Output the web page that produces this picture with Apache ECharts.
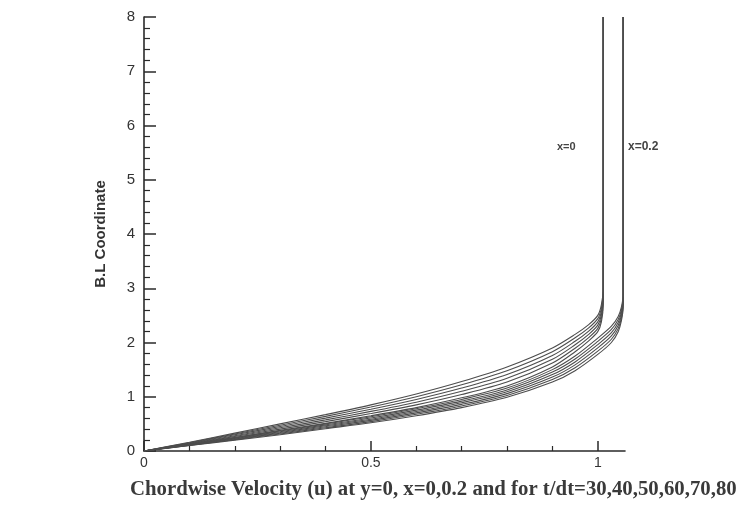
<!DOCTYPE html>
<html>
<head>
<meta charset="utf-8">
<script src="https://cdn.jsdelivr.net/npm/echarts@6/dist/echarts.min.js"></script>
<style>html,body{margin:0;padding:0;background:#fff;}#c{width:742px;height:507px;}</style>
</head>
<body>
<div id="c"></div>
<script>
// Chordwise velocity grids (u) for each station
const uGrid_x0  = [0, 0.1, 0.2, 0.3, 0.4, 0.5, 0.6, 0.7, 0.8, 0.9, 0.95, 0.98, 1.0, 1.008, 1.012, 1.012];
const uGrid_x02 = [0, 0.1, 0.2, 0.3, 0.4, 0.5, 0.6, 0.7, 0.8, 0.9, 0.95, 1.0, 1.03, 1.045, 1.052, 1.056, 1.056];

// B.L coordinate at x = 0, t/dt = 30..80
const y_x0_t30 = [0, 0.120, 0.250, 0.380, 0.510, 0.650, 0.800, 0.980, 1.200, 1.550, 1.830, 2.030, 2.200, 2.380, 2.700, 8];
const y_x0_t40 = [0, 0.128, 0.266, 0.404, 0.542, 0.690, 0.850, 1.040, 1.270, 1.620, 1.894, 2.090, 2.260, 2.444, 2.760, 8];
const y_x0_t50 = [0, 0.136, 0.282, 0.428, 0.574, 0.730, 0.900, 1.100, 1.340, 1.690, 1.958, 2.150, 2.320, 2.508, 2.820, 8];
const y_x0_t60 = [0, 0.144, 0.298, 0.452, 0.606, 0.770, 0.950, 1.160, 1.410, 1.760, 2.022, 2.210, 2.380, 2.572, 2.880, 8];
const y_x0_t70 = [0, 0.152, 0.314, 0.476, 0.638, 0.810, 1.000, 1.220, 1.480, 1.830, 2.086, 2.270, 2.440, 2.636, 2.940, 8];
const y_x0_t80 = [0, 0.160, 0.330, 0.500, 0.670, 0.850, 1.050, 1.280, 1.550, 1.900, 2.150, 2.330, 2.500, 2.700, 3.000, 8];

// B.L coordinate at x = 0.2, t/dt = 30..80
const y_x02_t30 = [0, 0.100, 0.200, 0.300, 0.410, 0.520, 0.650, 0.800, 0.990, 1.270, 1.480, 1.780, 2.000, 2.200, 2.400, 2.650, 8];
const y_x02_t40 = [0, 0.104, 0.210, 0.314, 0.428, 0.542, 0.676, 0.830, 1.024, 1.316, 1.534, 1.840, 2.060, 2.256, 2.450, 2.700, 8];
const y_x02_t50 = [0, 0.108, 0.220, 0.328, 0.446, 0.564, 0.702, 0.860, 1.058, 1.362, 1.588, 1.900, 2.120, 2.312, 2.500, 2.750, 8];
const y_x02_t60 = [0, 0.112, 0.230, 0.342, 0.464, 0.586, 0.728, 0.890, 1.092, 1.408, 1.642, 1.960, 2.180, 2.368, 2.550, 2.800, 8];
const y_x02_t70 = [0, 0.116, 0.240, 0.356, 0.482, 0.608, 0.754, 0.920, 1.126, 1.454, 1.696, 2.020, 2.240, 2.424, 2.600, 2.850, 8];
const y_x02_t80 = [0, 0.120, 0.250, 0.370, 0.500, 0.630, 0.780, 0.950, 1.160, 1.500, 1.750, 2.080, 2.300, 2.480, 2.650, 2.900, 8];

// Axis ticks and labels
const xLabelTicks = [0, 0.5, 1];
const xMinorTicks = [0.1, 0.2, 0.3, 0.4, 0.6, 0.7, 0.8, 0.9];
const yMax = 8;

const profiles = [
  [uGrid_x0, y_x0_t30], [uGrid_x0, y_x0_t40], [uGrid_x0, y_x0_t50],
  [uGrid_x0, y_x0_t60], [uGrid_x0, y_x0_t70], [uGrid_x0, y_x0_t80],
  [uGrid_x02, y_x02_t30], [uGrid_x02, y_x02_t40], [uGrid_x02, y_x02_t50],
  [uGrid_x02, y_x02_t60], [uGrid_x02, y_x02_t70], [uGrid_x02, y_x02_t80]
];

const axisCol = '#2a2a2a';
const lineCol = '#4d4d4d';

const series = profiles.map(function (p) {
  const u = p[0], y = p[1];
  return {
    type: 'line',
    xAxisIndex: 0,
    data: u.map(function (v, k) { return [v, y[k]]; }),
    showSymbol: false,
    smooth: 0.3,
    lineStyle: { color: lineCol, width: 1.1 },
    silent: true,
    animation: false
  };
});

const chart = echarts.init(document.getElementById('c'), null, { renderer: 'canvas' });
chart.setOption({
  backgroundColor: '#ffffff',
  animation: false,
  grid: { left: 144, top: 17, width: 481, height: 434, containLabel: false },
  xAxis: [{
    type: 'value', min: 0, max: 1.06,
    axisLine: { show: true, onZero: false, lineStyle: { color: axisCol, width: 1.6 } },
    axisTick: { show: true, inside: true, length: 10, customValues: xLabelTicks, lineStyle: { color: axisCol, width: 1.5 } },
    axisLabel: { show: true, customValues: xLabelTicks, margin: 5, fontFamily: 'Liberation Sans', fontSize: 14, color: '#333' },
    splitLine: { show: false }
  }, {
    type: 'value', min: 0, max: 1.06, position: 'bottom',
    axisLine: { show: false },
    axisTick: { show: true, inside: true, length: 5, customValues: xMinorTicks, lineStyle: { color: axisCol, width: 1.2 } },
    axisLabel: { show: false },
    splitLine: { show: false }
  }],
  yAxis: {
    type: 'value', min: 0, max: yMax, interval: 1,
    name: 'B.L Coordinate', nameLocation: 'middle', nameGap: 36, nameRotate: 90,
    nameTextStyle: { fontFamily: 'Liberation Sans', fontWeight: 'bold', fontSize: 15, color: '#333' },
    axisLine: { show: true, lineStyle: { color: axisCol, width: 1.6 } },
    axisTick: { show: true, inside: true, length: 12, lineStyle: { color: axisCol, width: 1.5 } },
    minorTick: { show: true, splitNumber: 5, length: 6, lineStyle: { color: axisCol, width: 1.2 } },
    axisLabel: { margin: 9, fontFamily: 'Liberation Sans', fontSize: 15, color: '#333' },
    splitLine: { show: false }
  },
  graphic: [
    { type: 'text', left: 130, top: 479, style: { text: 'Chordwise Velocity (u) at y=0, x=0,0.2 and for t/dt=30,40,50,60,70,80', fontFamily: 'Liberation Serif', fontWeight: 'bold', fontSize: 20.8, fill: '#3a3a3a' } },
    { type: 'text', left: 557, top: 141, style: { text: 'x=0', fontFamily: 'Liberation Sans', fontWeight: 'bold', fontSize: 11, fill: '#444' } },
    { type: 'text', left: 628, top: 141, style: { text: 'x=0.2', fontFamily: 'Liberation Sans', fontWeight: 'bold', fontSize: 12, fill: '#444' } }
  ],
  series: series
});
</script>
</body>
</html>
